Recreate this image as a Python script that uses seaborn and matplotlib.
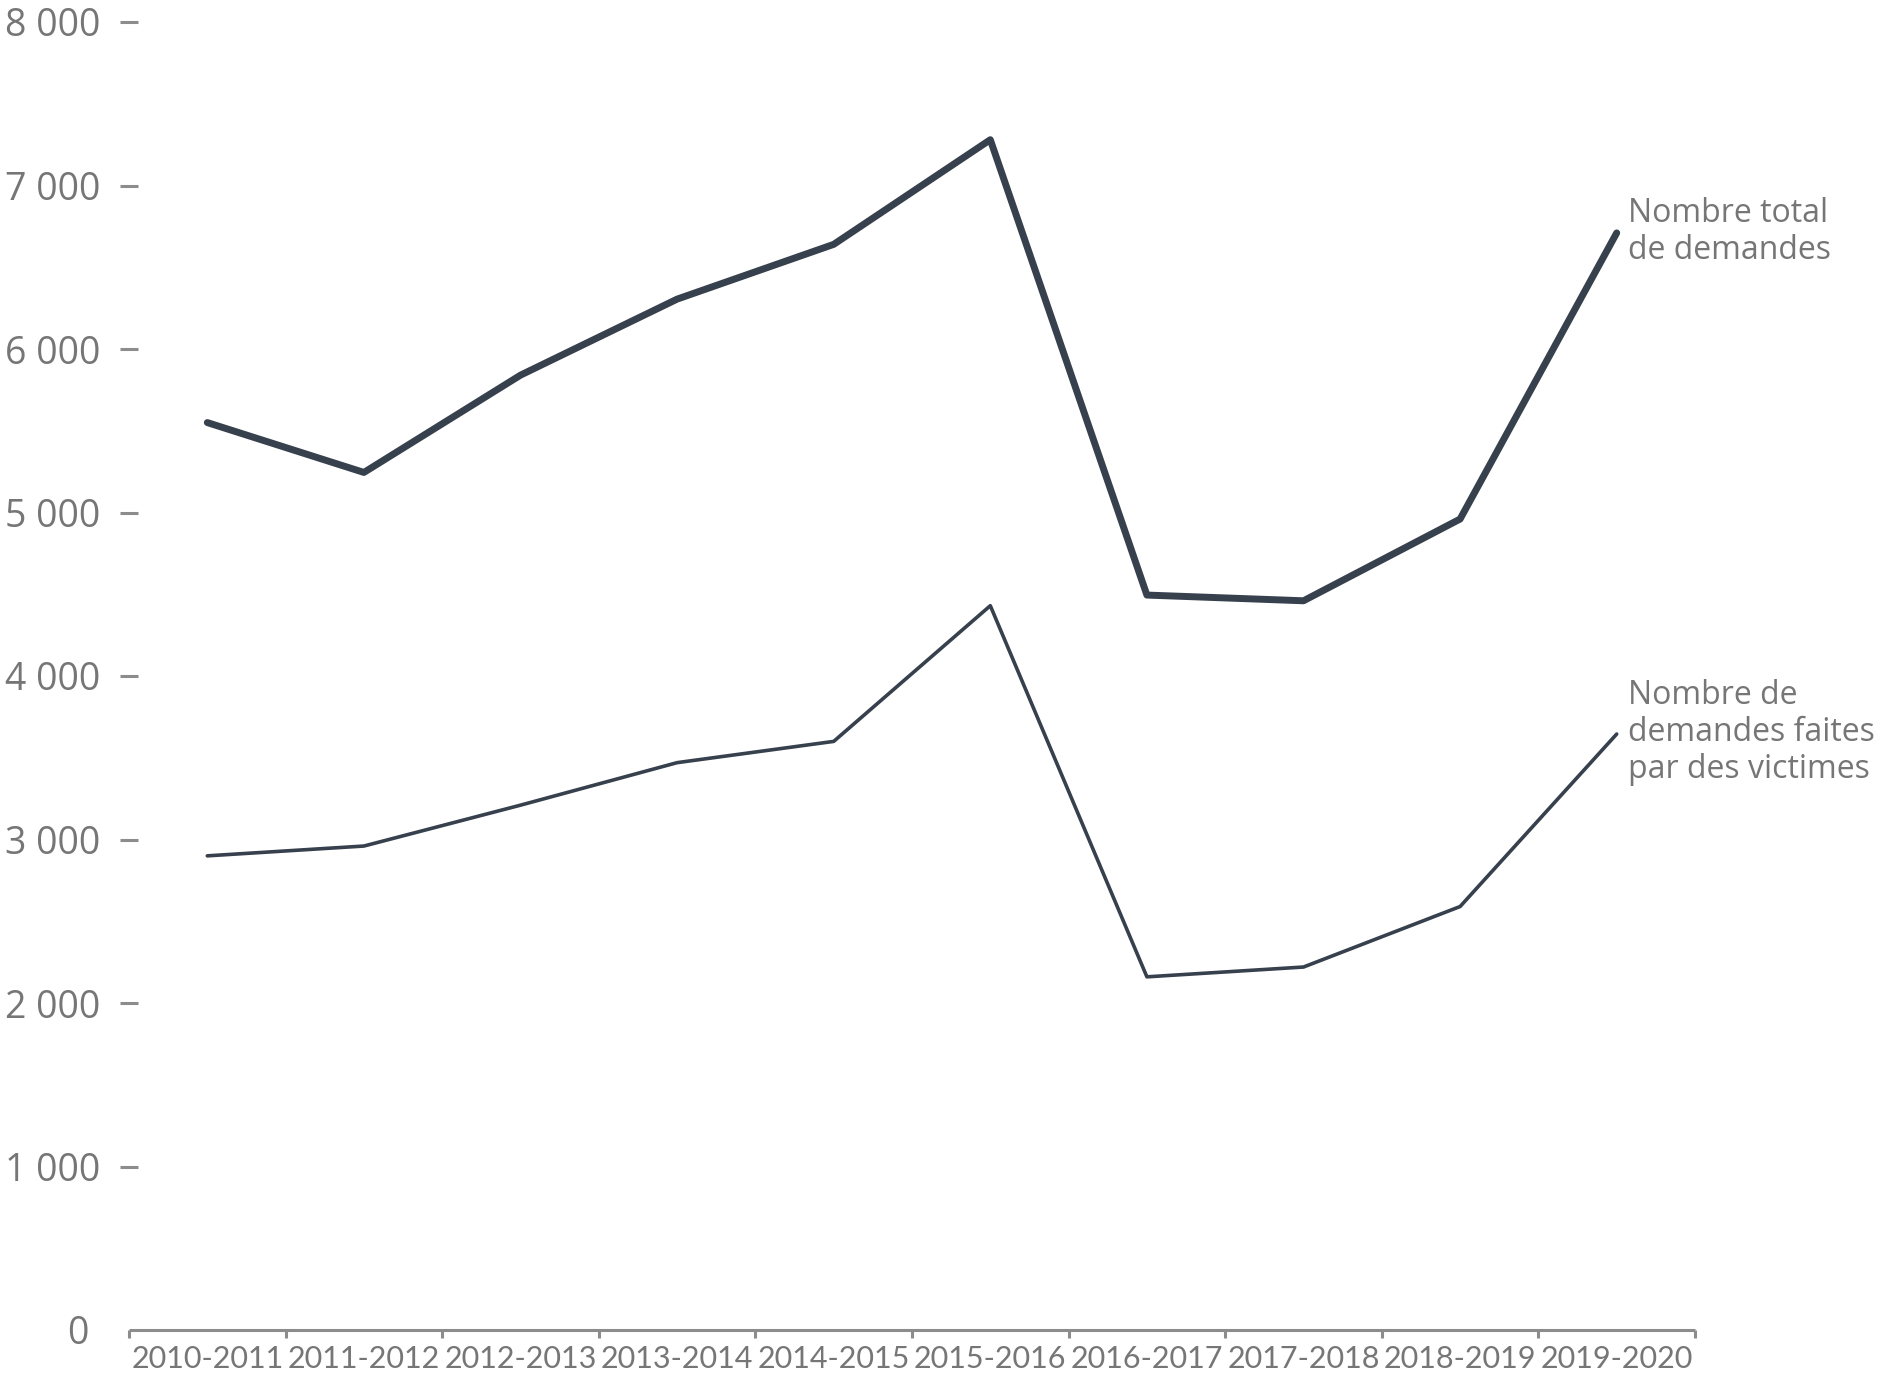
import matplotlib.pyplot as plt
import numpy as np
import pandas as pd
import seaborn as sns

# Data
periods = ["2010-2011", "2011-2012", "2012-2013", "2013-2014", "2014-2015",
           "2015-2016", "2016-2017", "2017-2018", "2018-2019", "2019-2020"]
total_demandes = [5550, 5245, 5840, 6305, 6640, 7280, 4495, 4460, 4960, 6710]
demandes_victimes = [2900, 2960, 3210, 3470, 3600, 4430, 2160, 2220, 2590, 3645]
y_ticks = [1000, 2000, 3000, 4000, 5000, 6000, 7000, 8000]
y_tick_labels = ["1 000", "2 000", "3 000", "4 000", "5 000", "6 000", "7 000", "8 000"]

LINE = "#37404d"
GREY = "#767676"
AXIS = "#8c8c8c"

sns.set_theme(style="white")
plt.rcParams["font.family"] = ["Open Sans", "DejaVu Sans"]

df = pd.DataFrame({
    "pos": np.arange(len(periods)),
    "total": total_demandes,
    "victimes": demandes_victimes,
})

fig = plt.figure(figsize=(18.78, 13.92), dpi=100)
ax = fig.add_axes([129 / 1878, 1 - 1330 / 1392, (1695 - 129) / 1878, (1330 - 22) / 1392])

sns.lineplot(data=df, x="pos", y="total", color=LINE, linewidth=5.0, ax=ax,
             solid_capstyle="round", solid_joinstyle="round")
sns.lineplot(data=df, x="pos", y="victimes", color=LINE, linewidth=2.6, ax=ax,
             solid_capstyle="round", solid_joinstyle="round")

ax.set_xlim(-0.5, len(periods) - 0.5)
ax.set_ylim(0, 8000)
ax.set_xlabel("")
ax.set_ylabel("")

# y axis: no spine, dash-like ticks across the edge
for side in ["left", "right", "top"]:
    ax.spines[side].set_visible(False)
ax.spines["bottom"].set_color(AXIS)
ax.spines["bottom"].set_linewidth(2.2)
ax.spines["bottom"].set_capstyle("butt")

ax.set_yticks(y_ticks)
ax.set_yticklabels(y_tick_labels)
ax.tick_params(axis="y", which="major", direction="inout", length=13, width=2.2,
               color=AXIS, pad=14, labelsize=27, labelcolor=GREY, left=True)
ax.set_yticks([0], minor=True)
ax.set_yticklabels(["0"], minor=True)
ax.tick_params(axis="y", which="minor", length=0, pad=29, labelsize=27, labelcolor=GREY)

# x axis: ticks between categories, labels at centres
ax.set_xticks(np.arange(-0.5, len(periods), 1.0))
ax.set_xticklabels([])
ax.tick_params(axis="x", which="major", direction="out", length=6, width=2.2,
               color=AXIS, bottom=True)
ax.set_xticks(np.arange(len(periods)), minor=True)
ax.set_xticklabels(periods, minor=True)
ax.tick_params(axis="x", which="minor", length=0, pad=11, labelsize=22, labelcolor=GREY)
for lbl in ax.get_xticklabels(minor=True):
    lbl.set_fontfamily(["Lato", "DejaVu Sans"])

ax.grid(False)

# direct labels
ax.text(1628, 1392 - 197, "Nombre total\nde demandes", transform=None,
        fontsize=23, color=GREY, va="top", ha="left", linespacing=1.15)
ax.text(1628, 1392 - 679, "Nombre de\ndemandes faites\npar des victimes", transform=None,
        fontsize=23, color=GREY, va="top", ha="left", linespacing=1.15)

fig.savefig("out.png", dpi=100)
